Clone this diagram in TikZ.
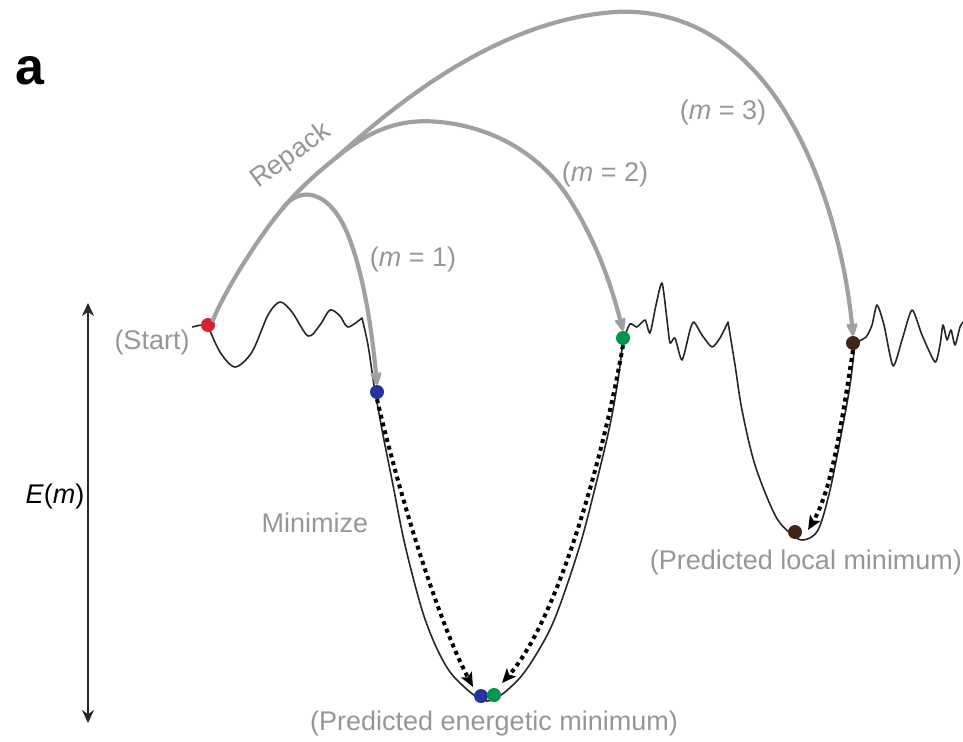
\documentclass[tikz,border=0pt]{standalone}
\usepackage{fontspec}
\setmainfont{Liberation Sans}
\usepackage{tikz}
\usetikzlibrary{arrows.meta,calc}
\definecolor{cgray}{RGB}{160,160,160}
\definecolor{tgray}{RGB}{150,150,150}
\definecolor{cred}{RGB}{214,32,52}
\definecolor{cblue}{RGB}{36,52,160}
\definecolor{cgreen}{RGB}{0,150,76}
\definecolor{cbrown}{RGB}{66,36,22}
\newcommand{\mv}{\textit{m}}

\begin{document}
\begin{tikzpicture}[x=1pt,y=-1pt,font=\fontsize{27}{31}\selectfont,
  dot/.style={circle,inner sep=0pt,minimum size=14pt,fill=#1},
  lbl/.style={text=tgray,inner sep=1pt},
  land/.style={line width=1.6pt,black!85,line join=round},
  repack/.style={line width=4.2pt,cgray,line cap=round},
  jump/.style={repack,-{Stealth[length=18pt,width=15pt,round]}},
  mini/.style={line width=4pt,dash pattern=on 4pt off 4pt,-{Stealth[length=14pt,width=12pt,inset=3pt]}},
  axis/.style={line width=2pt,black!85,{Stealth[length=13pt,width=12pt]}-{Stealth[length=13pt,width=12pt]}},
]
\useasboundingbox (0,0) rectangle (963,741);

\draw[land] plot[smooth,tension=0.5] coordinates {(208,326) (220,352) (235,367) (252,352) (268,315) (280,302) (292,312) (308,336) (320,325) (330,310) (340,316) (348,327) (362,318)}
  -- plot[smooth,tension=0.55] coordinates {(362,318) (368,345) (374,385) (383,435) (392,480) (405,545) (423,613) (440,655) (457,680) (487,701) (517,681) (540,648) (557,613) (580,545) (597,480) (610,425) (618,380) (623,340)}
  -- plot[smooth,tension=0.4] coordinates {(623,340) (630,324) (637,327) (645,320) (650,333) (656,305) (662,283) (667,320) (670,343) (675,338) (682,360) (690,330) (694,322) (702,335) (712,347) (720,338) (728,322)}
  -- plot[smooth,tension=0.55] coordinates {(728,322) (735,365) (742,410) (755,465) (775,515) (790,533) (803,540) (818,530) (830,490) (842,430) (850,385) (855,343)}
  -- plot[smooth,tension=0.4] coordinates {(855,343) (866,337) (872,325) (877,305) (884,325) (893,366) (902,340) (912,310) (922,335) (935,362) (940,345) (943,325) (947,340) (951,330) (955,345) (960,327) (963,322)};

\node[dot=cred] (red) at (208,325) {};
\node[dot=cblue] (blue) at (377,392) {};
\node[dot=cgreen] (green) at (623,338) {};
\node[dot=cbrown] (brown) at (853,343) {};
\node[dot=cblue] (blue2) at (481,696) {};
\node[dot=cgreen] (green2) at (494,695) {};
\node[dot=cbrown] (brown2) at (795,532) {};

\coordinate (tick) at (192,327);
\coordinate (fork1) at (283,208);
\coordinate (fork2) at (337,157);
\coordinate (etop) at (88,303);
\coordinate (ebot) at (88,723);
\coordinate (end1) at (473,687);
\coordinate (end2) at (502,683);
\coordinate (end3) at (808,530);

\node[font=\fontsize{52}{56}\selectfont\bfseries] (panel) at (30,71) {a};
\node (energy) at (55,497) {\textit{E}(\mv)};
\node[lbl] (start) at (152,343) {(Start)};
\node[lbl,rotate=36] (rep) at (291,156) {Repack};
\node[lbl] (m1) at (413,260) {(\mv\ = 1)};
\node[lbl] (m2) at (605,175) {(\mv\ = 2)};
\node[lbl] (m3) at (723,113) {(\mv\ = 3)};
\node[lbl] (mini) at (315,523) {Minimize};
\node[lbl] (emin) at (494,724) {(Predicted energetic minimum)};
\node[lbl] (lmin) at (806,563) {(Predicted local minimum)};

\draw[land] (tick) -- (red.west);
\draw[axis] (ebot) -- (etop);

\draw[repack] (red.north east) .. controls (225,290) and (260,235) .. (fork1);
\draw[repack] (fork1) .. controls (300,188) and (318,172) .. (fork2);
\draw[jump] (fork1) .. controls (300,185) and (330,190) .. (348,235) .. controls (362,270) and (371,320) .. (blue.north);
\draw[jump] (fork2) .. controls (370,130) and (400,118) .. (440,122) .. controls (500,128) and (545,160) .. (570,200) .. controls (595,240) and (610,280) .. (green.north);
\draw[jump] (fork2) .. controls (400,100) and (500,20) .. (615,12) .. controls (690,8) and (750,50) .. (790,120) .. controls (825,180) and (846,260) .. (brown.north);

\draw[mini] (blue.south) .. controls (402,505) and (440,625) .. (end1);
\draw[mini] (green.south) .. controls (604,455) and (558,620) .. (end2);
\draw[mini] (brown.south) .. controls (842,420) and (832,490) .. (end3);
\end{tikzpicture}
\end{document}
